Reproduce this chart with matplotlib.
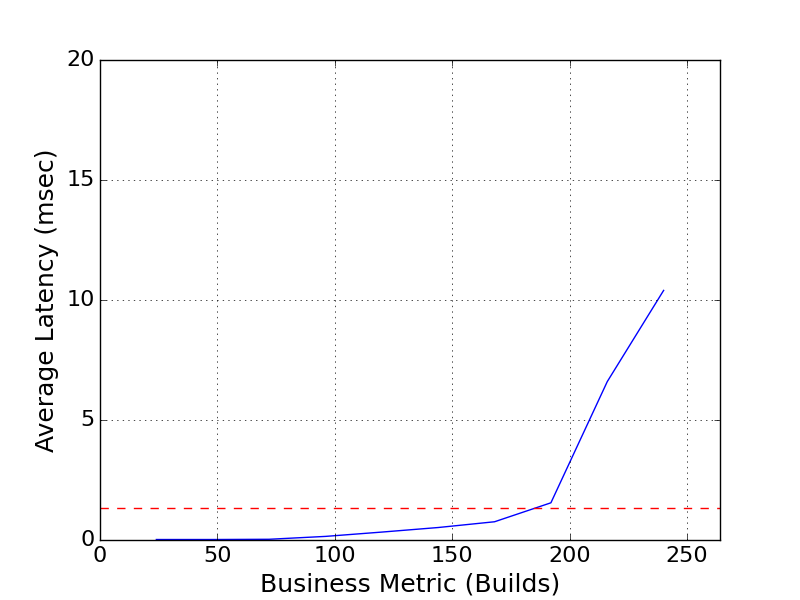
import matplotlib
matplotlib.use("Agg")
import matplotlib.pyplot as plt

plt.style.use("classic")

# values
builds = [24, 48, 72, 96, 120, 144, 168, 192, 216, 240]
latency = [0.02, 0.02, 0.03, 0.15, 0.33, 0.52, 0.76, 1.55, 6.6, 10.4]
threshold = 1.32

fig = plt.figure(figsize=(8, 6), dpi=100, facecolor="white")
ax = fig.add_subplot(111)

ax.plot(builds, latency, "b-", linewidth=1)
ax.axhline(threshold, color="r", linestyle="--", linewidth=1)

ax.set_xlim(0, 264)
ax.set_ylim(0, 20)
ax.set_xticks([0, 50, 100, 150, 200, 250])
ax.set_yticks([0, 5, 10, 15, 20])
ax.grid(True, color="k", linestyle=":")
ax.tick_params(labelsize=16)

ax.set_xlabel("Business Metric (Builds)", fontsize=18)
ax.set_ylabel("Average Latency (msec)", fontsize=18)

fig.savefig("out.png", dpi=100, facecolor="white")
